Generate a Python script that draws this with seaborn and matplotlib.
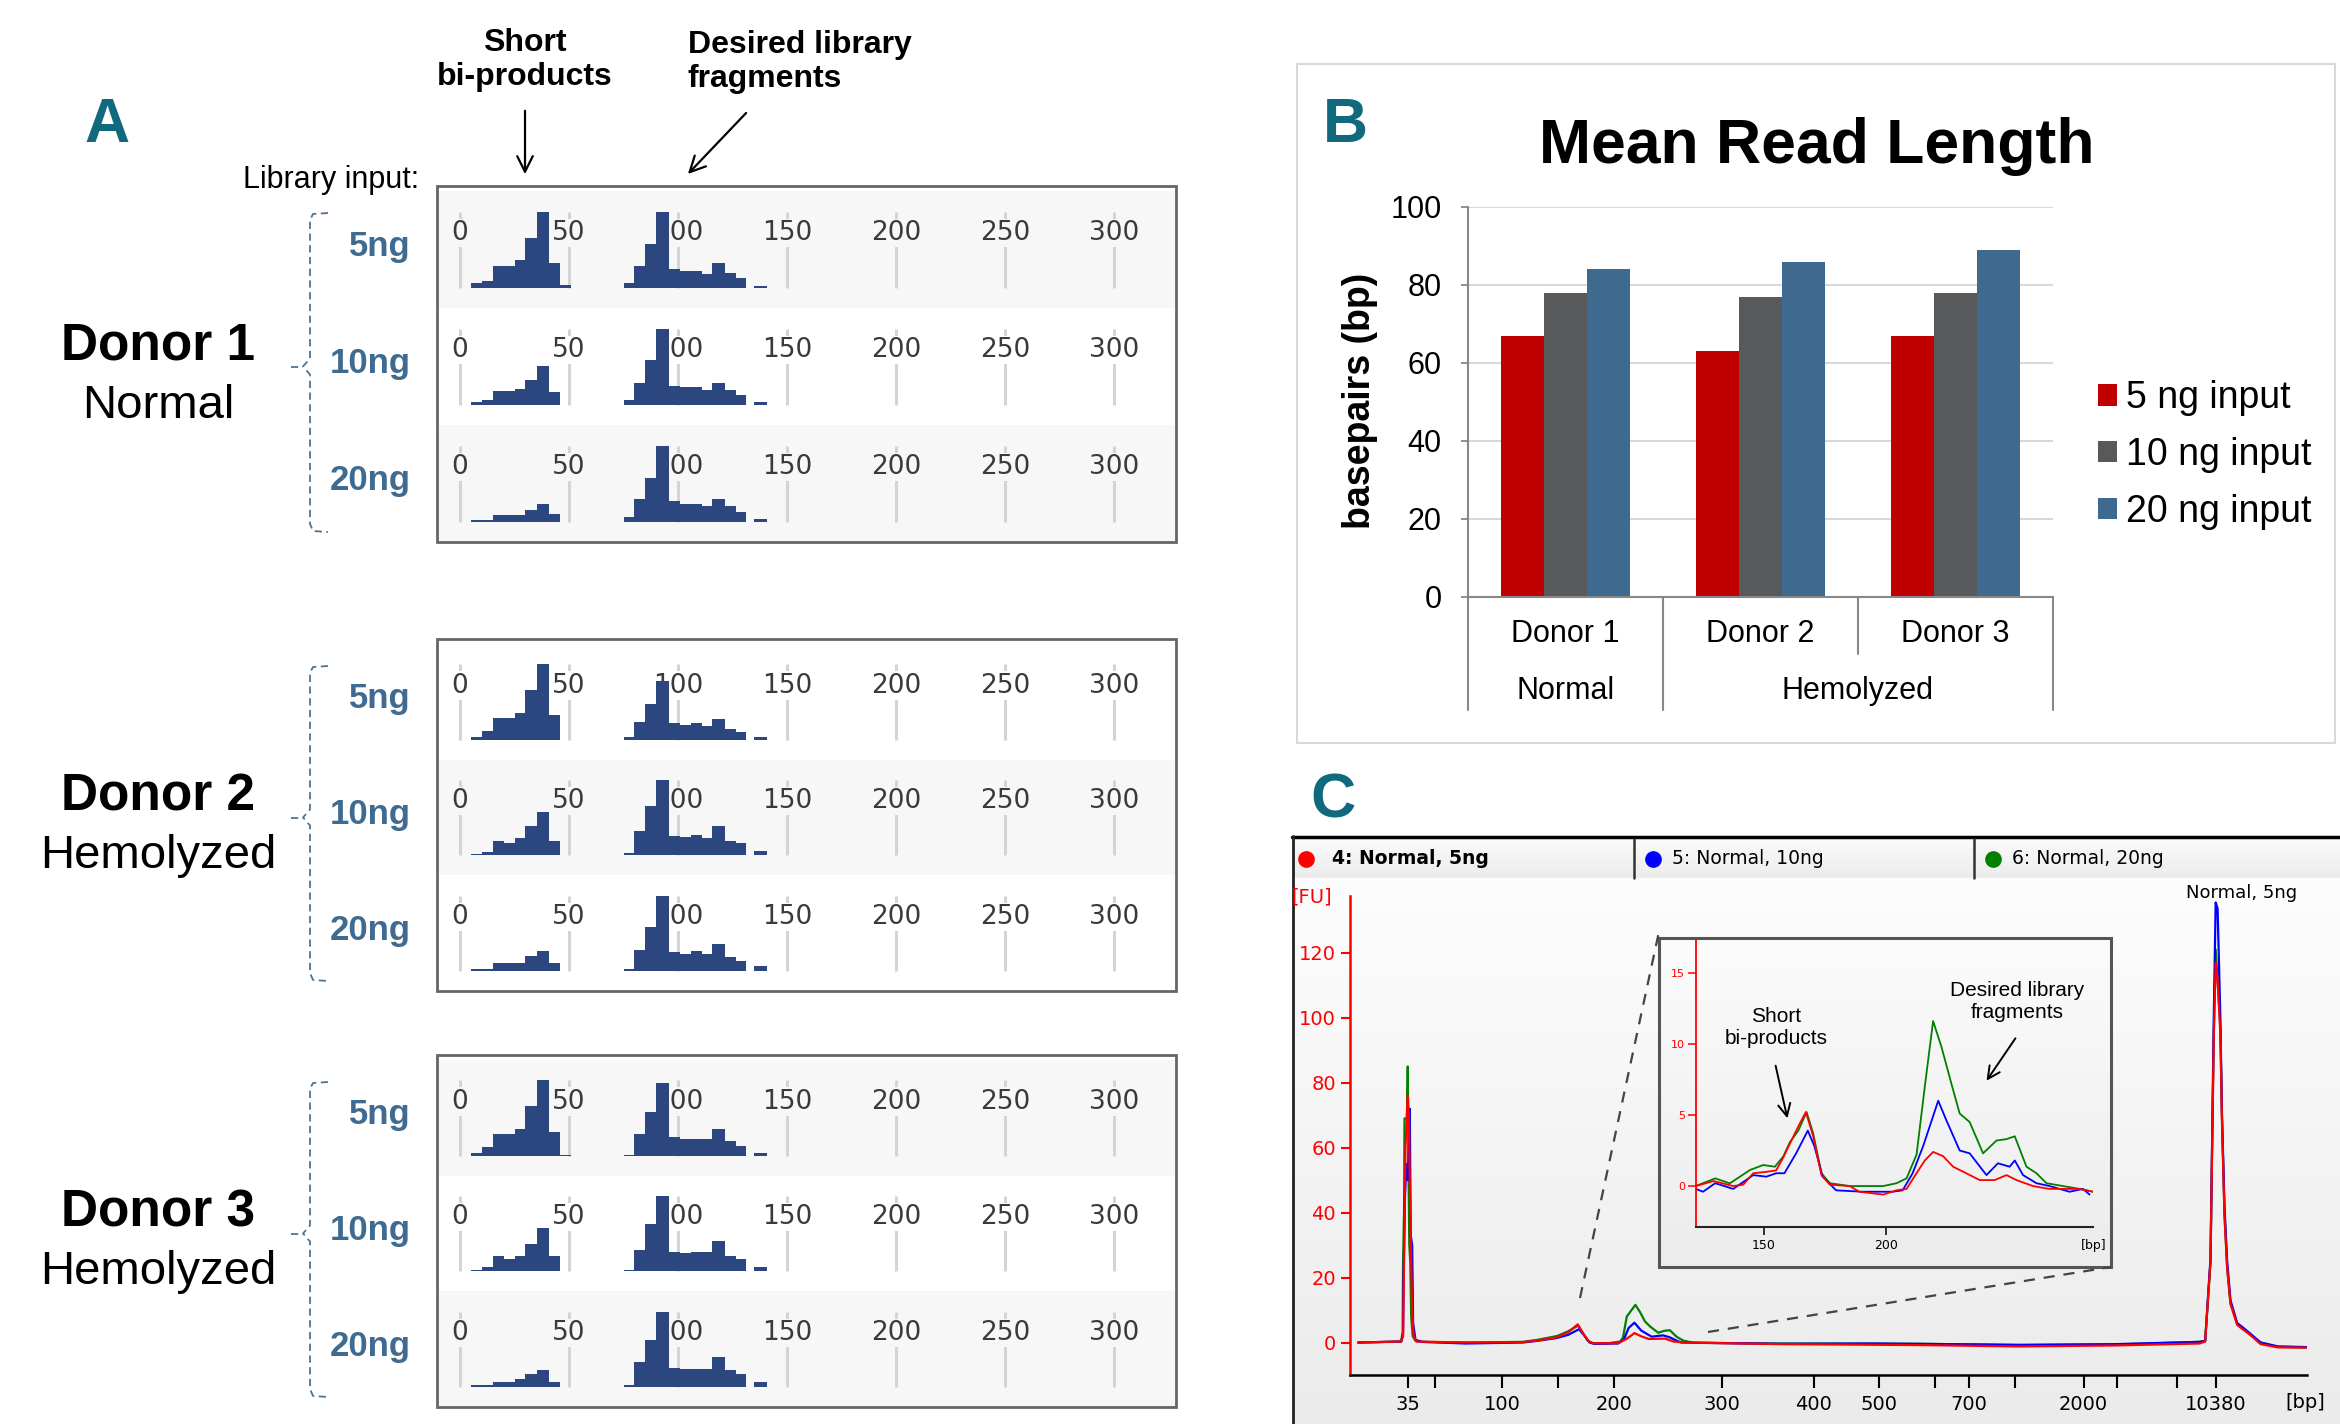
import numpy as np
import pandas as pd
import matplotlib.pyplot as plt
import seaborn as sns
from matplotlib.lines import Line2D
from matplotlib.patches import Rectangle, FancyArrowPatch
from matplotlib.colors import LinearSegmentedColormap

sns.set_style('white')
plt.rcParams['font.family'] = ['Liberation Sans', 'DejaVu Sans']
plt.rcParams['text.color'] = 'black'
plt.rcParams['axes.labelcolor'] = 'black'
plt.rcParams['xtick.color'] = 'black'
plt.rcParams['ytick.color'] = 'black'

W, H = 2340, 1424

# ---------------- data ----------------
# panel A: size histograms (percent of tallest bar in each lane)
ticks_a = [0, 50, 100, 150, 200, 250, 300]
short_edges = [5, 10, 15, 20, 25, 30, 35.5, 41, 46, 51]
lib_edges = [75, 80, 85, 90, 96, 101, 106, 111, 115.5, 121.5, 126.5, 131, 135, 141]
input_labels = ['5ng', '10ng', '20ng']

short_d1 = [[6, 9, 28, 28, 36, 66, 100, 32, 3],
            [3, 6, 18, 18, 21, 33, 51, 17, 0],
            [2, 2, 9, 9, 9, 15, 24, 10, 0]]
lib_d1 = [[6, 28, 58, 100, 25, 22, 22, 18, 32, 19, 13, 0, 2],
          [6, 29, 59, 100, 25, 23, 23, 20, 29, 20, 13, 0, 3],
          [6, 30, 58, 100, 27, 24, 24, 21, 30, 21, 13, 0, 3]]
short_d2 = [[3, 11, 29, 29, 36, 66, 100, 33, 0],
            [2, 5, 19, 16, 23, 39, 58, 19, 0],
            [2, 2, 10, 10, 10, 20, 26, 10, 0]]
lib_d2 = [[3, 23, 47, 78, 22, 19, 22, 18, 28, 14, 10, 0, 3],
          [3, 33, 66, 100, 26, 24, 27, 23, 39, 19, 16, 0, 6],
          [2, 28, 59, 100, 25, 23, 26, 22, 36, 19, 13, 0, 6]]
short_d3 = [[4, 12, 29, 29, 35, 66, 100, 32, 1],
            [2, 6, 20, 16, 20, 37, 57, 20, 0],
            [3, 3, 6, 6, 10, 17, 23, 6, 0]]
lib_d3 = [[1, 29, 58, 96, 25, 22, 22, 22, 35, 20, 13, 0, 4],
          [2, 29, 63, 100, 26, 24, 26, 26, 40, 21, 16, 0, 6],
          [3, 33, 62, 100, 25, 24, 24, 24, 40, 23, 17, 0, 6]]

# panel B: mean read length
donors = ['Donor 1', 'Donor 2', 'Donor 3']
inputs = ['5 ng input', '10 ng input', '20 ng input']
mean_5ng = [67, 63, 67]
mean_10ng = [78, 77, 78]
mean_20ng = [84, 86, 89]

# panel C: electropherogram (x = migration position 0-100, y = FU)
ladder_pos = [5.98, 8.84, 15.85, 21.74, 27.61, 38.88, 48.48, 55.26, 61.15,
              64.65, 69.54, 76.69, 80.19, 86.49, 90.55]
ladder_lbl = ['35', '', '100', '', '200', '300', '400', '500', '', '700', '',
              '2000', '', '', '10380']
green_main = [(0.8, 0), (5.3, 0.3), (5.45, 3), (5.5, 25), (5.6, 40), (5.65, 69), (5.9, 69),
              (5.99, 85), (6.05, 60), (6.15, 30), (6.25, 25), (6.35, 8), (6.5, 2), (6.8, 0.5),
              (7.5, 0.2), (12, 0), (18, 0.2), (19.5, 0.8), (21.6, 2.0), (22.8, 3.5), (23.8, 5.2),
              (24.4, 2.5), (24.8, 0.6), (25.3, -0.2), (27, -0.2), (28.2, 0.3), (28.5, 1.5),
              (28.9, 8), (29.8, 11.6), (30.3, 9.3), (30.8, 6.5), (31.35, 4.9), (32.2, 3.0),
              (32.8, 3.6), (33.4, 3.8), (34.1, 1.8), (34.8, 0.6), (35.9, -0.1), (45, -0.3),
              (60, -0.4), (70, -0.8), (80, -0.6), (88.8, 0.2), (89.4, 0.5), (89.96, 25),
              (90.1, 55), (90.3, 95), (90.5, 121), (90.99, 97), (91.16, 69), (91.42, 40),
              (91.7, 23), (92.05, 12), (92.75, 5.7), (93.5, 4), (94.17, 2.4), (95.2, 0),
              (97, -1.3), (100, -1.5)]
blue_main = [(0.8, 0), (5.3, 0.3), (5.5, 3), (5.55, 20), (5.7, 45), (5.85, 55), (6.0, 50),
             (6.1, 60), (6.2, 72), (6.3, 33), (6.45, 30), (6.55, 6), (6.8, 0.8), (7.5, 0.2),
             (12, -0.3), (18, 0), (19.5, 0.5), (21.6, 1.4), (22.8, 2.4), (23.9, 4.1), (24.5, 2),
             (25, 0), (25.5, -0.4), (28, -0.3), (28.6, 1), (29.1, 4.5), (29.7, 6.1), (30.4, 3.7),
             (31.5, 1.8), (32.7, 2.2), (33.4, 1.6), (34.1, 0.6), (34.6, 0), (45, -0.4),
             (55, -0.3), (70, -0.7), (80, -0.5), (88.8, 0.2), (89.4, 0.5), (89.96, 26),
             (90.1, 56), (90.3, 100), (90.5, 135.5), (90.7, 133.6), (90.99, 100), (91.16, 70),
             (91.42, 42), (91.7, 25), (92.05, 13), (92.75, 6), (93.4, 4.5), (94.17, 2.6),
             (95.2, 0), (97, -1.2), (100, -1.4)]
red_main = [(0.8, 0), (5.3, 0.3), (5.5, 2), (5.6, 25), (5.75, 60), (5.99, 76), (6.1, 70),
            (6.2, 50), (6.3, 32), (6.45, 10), (6.6, 2), (6.9, 0.3), (12, 0), (18, 0.1),
            (19.5, 0.6), (21.6, 1.6), (22.8, 3.2), (23.77, 5.6), (24.4, 2.5), (24.9, 0.4),
            (25.4, -0.2), (28, -0.2), (28.8, 1), (29.3, 2), (29.7, 2.9), (30.5, 1.8),
            (31.2, 1.1), (32.9, 1.2), (33.8, 0.3), (35, 0), (45, -0.5), (60, -0.8), (70, -1.2),
            (80, -0.9), (88.8, -0.3), (89.4, 0.3), (89.96, 25), (90.1, 54), (90.3, 94),
            (90.5, 117), (90.7, 112), (90.99, 95), (91.16, 68), (91.42, 39), (91.7, 23),
            (92.05, 12), (92.75, 5.4), (94.17, 2.2), (95.2, -0.5), (97, -1.5), (100, -1.6)]

# inset (x in bp)
green_inset = [(122, 0), (130, 0.54), (136, 0.19), (144.3, 1.13), (149.7, 1.48), (154.5, 1.36),
               (157.9, 2.07), (160.7, 3.1), (164.1, 3.9), (167.5, 5.2), (170.2, 3.7),
               (173.6, 0.9), (177, 0.2), (185.2, 0), (198.9, 0), (204.4, 0.2), (208.5, 0.54),
               (212.6, 2.2), (216, 7.0), (219.4, 11.6), (222.8, 9.8), (226.9, 7.2),
               (230.3, 5.1), (234.4, 4.5), (239.9, 2.3), (245.4, 3.2), (249.5, 3.3),
               (252.9, 3.5), (257.7, 1.36), (261.8, 0.9), (265.9, 0.2), (272.7, 0),
               (279.5, -0.2), (285, -0.4)]
blue_inset = [(122, -0.2), (125, -0.4), (130, 0.2), (137.4, -0.2), (145.6, 0.77), (151, 0.66),
              (155, 0.9), (158.4, 0.9), (163.2, 2.3), (168, 3.9), (170.7, 2.8), (174.1, 0.66),
              (179.6, -0.3), (190.5, -0.4), (202.8, -0.4), (206.9, -0.3), (211, 0.9),
              (215.3, 2.8), (218.8, 4.6), (221.5, 6.0), (224.9, 4.6), (230.3, 2.5),
              (234.4, 2.3), (241.3, 0.77), (246, 1.6), (250.8, 1.36), (252.9, 1.8),
              (256.3, 0.77), (261.8, 0.2), (267.2, 0), (275.4, -0.4), (280.9, -0.2),
              (283.6, -0.6)]
red_inset = [(122, 0), (129.3, 0.35), (137.4, 0), (141.5, 0.1), (145.6, 0.9), (151, 1.0),
             (155, 1.1), (157.9, 2.0), (160.7, 3.0), (164.1, 4.2), (167.2, 5.2), (170.2, 3.5),
             (173.6, 0.77), (177, 0.1), (185.2, 0), (189.1, -0.4), (198.9, -0.6),
             (204.4, -0.3), (208.5, -0.2), (212.6, 0.9), (216, 1.8), (219.4, 2.4),
             (223.5, 2.1), (227.6, 1.36), (233, 0.9), (238.5, 0.42), (244.7, 0.42),
             (249.5, 0.77), (253.6, 0.42), (260.4, 0), (267, -0.2), (279.5, -0.2), (285, -0.4)]

# ---------------- helpers ----------------
fig = plt.figure(figsize=(W / 100, H / 100), dpi=100)
fig.patch.set_facecolor('white')


def px_axes(l, t, r, b, **kw):
    return fig.add_axes([l / W, 1 - b / H, (r - l) / W, (b - t) / H], **kw)


def ftext(x, y, s, **kw):
    return fig.text(x / W, 1 - y / H, s, **kw)


def fline(xs, ys, **kw):
    fig.add_artist(Line2D([x / W for x in xs], [1 - y / H for y in ys], **kw))


def farrow(x0, y0, x1, y1, lw=1.6, ms=28):
    fig.add_artist(FancyArrowPatch((x0 / W, 1 - y0 / H), (x1 / W, 1 - y1 / H),
                                   transform=fig.transFigure, arrowstyle='->',
                                   mutation_scale=ms, lw=lw, color='black'))


def frect(l, t, r, b, **kw):
    fig.add_artist(Rectangle((l / W, 1 - b / H), (r - l) / W, (b - t) / H,
                             transform=fig.transFigure, **kw))


def gradient(l, t, r, b, c_top, c_bot):
    g = px_axes(l, t, r, b)
    g.imshow(np.linspace(0, 1, 64).reshape(-1, 1), aspect='auto',
             cmap=LinearSegmentedColormap.from_list('g', [c_top, c_bot]))
    g.set_axis_off()
    return g


teal = '#10697c'
navy = '#2c4780'
steel = '#3f6b90'

# ---------------- panel A ----------------
ftext(107, 142, 'A', fontsize=45, fontweight='bold', color=teal, ha='center', va='baseline')
ftext(525, 60, 'Short\nbi-products', fontsize=23, fontweight='bold', ha='center', va='center',
      linespacing=1.15)
ftext(688, 62, 'Desired library\nfragments', fontsize=23, fontweight='bold', ha='left',
      va='center', linespacing=1.15)
farrow(525, 108, 525, 177)
farrow(748, 111, 686, 176)
ftext(419, 180, 'Library input:', fontsize=22, ha='right', va='center')

boxes = [(186, 542), (639, 991), (1055, 1407)]
short_all = [short_d1, short_d2, short_d3]
lib_all = [lib_d1, lib_d2, lib_d3]
grey_bg = '#f7f7f7'
bg_all = [[grey_bg, 'white', grey_bg], ['white', grey_bg, 'white'], [grey_bg, 'white', grey_bg]]
donor_names = ['Donor 1', 'Donor 2', 'Donor 3']
donor_state = ['Normal', 'Hemolyzed', 'Hemolyzed']

for (top, bot), shorts, libs, bgs, dname, dstate in zip(boxes, short_all, lib_all, bg_all,
                                                       donor_names, donor_state):
    row_h = (bot - top - 5) / 3
    centers = []
    for i in range(3):
        rt = top + 5 + i * row_h
        centers.append(rt + row_h / 2)
        ax = px_axes(438, rt, 1175, rt + row_h)
        ax.set_facecolor(bgs[i])
        ax.vlines(ticks_a, 0, 100, color='#d4d4d4', lw=2.2, zorder=1)
        for t in ticks_a:
            ax.text(t, 72, str(t), ha='center', va='center', fontsize=19,
                    family='DejaVu Sans', color='#3a3a3a', zorder=2,
                    bbox=dict(boxstyle='square,pad=0.05', fc=bgs[i], ec='none'))
        sns.histplot(x=short_edges[:-1], weights=shorts[i], bins=short_edges, color=navy,
                     alpha=1, linewidth=0, ax=ax, zorder=3)
        sns.histplot(x=lib_edges[:-1], weights=libs[i], bins=lib_edges, color=navy,
                     alpha=1, linewidth=0, ax=ax, zorder=3)
        ax.set_xlim(-10.1, 328)
        ax.set_ylim(-26.6, 127.2)
        ax.set_xticks([])
        ax.set_yticks([])
        ax.set_xlabel('')
        ax.set_ylabel('')
        for s in ax.spines.values():
            s.set_visible(False)
        ftext(411, centers[i] - 3, input_labels[i], fontsize=25, fontweight='bold',
              color=steel, ha='right', va='center')
    frect(437, top, 1176, bot, fill=False, ec='#666666', lw=2)
    # dashed curly bracket
    mid = centers[1]
    bt, bb = top + 27, bot - 11
    fline([328, 313, 310, 310, 303, 310, 310, 313, 328],
          [bt, bt + 1, bt + 7, mid - 8, mid, mid + 8, bb - 7, bb, bb + 1],
          color='#4f7396', lw=1.3, ls=(0, (4, 2.5)))
    fline([291, 301], [mid, mid], color='#4f7396', lw=1.3, ls=(0, (4, 2.5)))
    ftext(158, mid - 7, dname, fontsize=37, fontweight='bold', ha='center', va='baseline')
    ftext(158, mid + 51, dstate, fontsize=34, ha='center', va='baseline')

# ---------------- panel B ----------------
frect(1297, 64, 2335, 743, fill=False, ec='#d9d9d9', lw=1.5)
ftext(1345, 142, 'B', fontsize=45, fontweight='bold', color=teal, ha='center', va='baseline')
ftext(1817, 163, 'Mean Read Length', fontsize=45, fontweight='bold', ha='center',
      va='baseline')

df = pd.DataFrame({
    'donor': donors * 3,
    'input': [inputs[0]] * 3 + [inputs[1]] * 3 + [inputs[2]] * 3,
    'bp': mean_5ng + mean_10ng + mean_20ng,
})
bar_colors = ['#c00000', '#58595b', '#3e6a8f']
axb = px_axes(1468, 207, 2053, 597)
sns.barplot(data=df, x='donor', y='bp', hue='input', hue_order=inputs, palette=bar_colors,
            width=0.665, gap=0, saturation=1, edgecolor='none', ax=axb)
axb.set_xlim(-0.5, 2.5)
axb.set_ylim(0, 100)
axb.set_yticks([0, 20, 40, 60, 80, 100])
axb.set_xticks([])
axb.set_xlabel('')
axb.set_ylabel('')
axb.set_axisbelow(True)
axb.yaxis.grid(True, color='#d9d9d9', lw=1.5)
axb.tick_params(axis='y', labelsize=22, length=5, width=1.3, color='#888888', pad=14,
                left=True, labelcolor='black')
for s in ['top', 'right']:
    axb.spines[s].set_visible(False)
for s in ['left', 'bottom']:
    axb.spines[s].set_color('#888888')
    axb.spines[s].set_linewidth(1.5)
xt = axb.get_xaxis_transform()
for i, d in enumerate(donors):
    axb.text(i, -0.095, d, transform=xt, ha='center', va='center', fontsize=22)
axb.text(0, -0.24, 'Normal', transform=xt, ha='center', va='center', fontsize=22)
axb.text(1.5, -0.24, 'Hemolyzed', transform=xt, ha='center', va='center', fontsize=22)
for xpos, ylow in [(-0.5, -0.29), (0.5, -0.29), (1.5, -0.146), (2.5, -0.29)]:
    axb.plot([xpos, xpos], [0, ylow], transform=xt, clip_on=False, color='#888888', lw=1.5)
handles, labels = axb.get_legend_handles_labels()
axb.legend(handles, labels, loc='center left', bbox_to_anchor=(2079 / W, 1 - 455 / H),
           bbox_transform=fig.transFigure, frameon=False, fontsize=27, handlelength=0.5,
           handleheight=0.5, handletextpad=0.25, labelspacing=0.55, borderpad=0)
ftext(1360, 401, 'basepairs (bp)', fontsize=27, fontweight='bold', rotation=90,
      ha='center', va='center')

# ---------------- panel C ----------------
ftext(1333, 818, 'C', fontsize=45, fontweight='bold', color=teal, ha='center', va='baseline')
gradient(1292, 838, 2340, 878, '#fbfbfb', '#ececec')
gradient(1292, 878, 2340, 1424, '#fdfdfd', '#ebebeb')
fline([1292, 2340], [837, 837], color='black', lw=2.5)
fline([1293, 1293], [836, 1424], color='#222222', lw=2)
for xs in [1634, 1974]:
    fline([xs, xs], [839, 878], color='#333333', lw=1.8)
tab_specs = [(1306, 1332, '4: Normal, 5ng', 'red', 'bold'),
             (1653, 1672, '5: Normal, 10ng', 'blue', 'normal'),
             (1993, 2012, '6: Normal, 20ng', 'green', 'normal')]
for dx, tx, s, c, wgt in tab_specs:
    fig.add_artist(Line2D([dx / W], [1 - 859 / H], marker='o', ms=11, color=c, mec=c,
                          transform=fig.transFigure))
    ftext(tx, 859, s, fontsize=13.5, fontweight=wgt, family='DejaVu Sans', ha='left',
          va='center')

axc = px_axes(1350.5, 896, 2306.5, 1375)
axc.patch.set_alpha(0)
for pts, c in [(green_main, 'green'), (blue_main, 'blue'), (red_main, 'red')]:
    arr = np.array(pts)
    sns.lineplot(x=arr[:, 0], y=arr[:, 1], color=c, lw=1.6, ax=axc, estimator=None,
                 sort=False)
axc.set_xlim(0, 100)
axc.set_ylim(-10, 137.5)
axc.set_yticks([0, 20, 40, 60, 80, 100, 120])
axc.set_xticks(ladder_pos)
axc.set_xticklabels(ladder_lbl)
for lab in axc.get_xticklabels() + axc.get_yticklabels():
    lab.set_family('DejaVu Sans')
axc.tick_params(axis='y', colors='red', labelsize=14, length=6.5, width=1.5, pad=4,
                left=True)
axc.tick_params(axis='x', colors='black', labelsize=14, length=9.5, width=1.5, pad=5,
                bottom=True)
for s in ['top', 'right']:
    axc.spines[s].set_visible(False)
axc.spines['left'].set_color('red')
axc.spines['left'].set_linewidth(1.8)
axc.spines['bottom'].set_color('black')
axc.spines['bottom'].set_linewidth(1.8)
axc.set_xlabel('')
axc.set_ylabel('')
ftext(1312, 897, '[FU]', fontsize=14, color='red', family='DejaVu Sans', ha='center',
      va='center')
ftext(2305, 1403, '[bp]', fontsize=14, family='DejaVu Sans', ha='center', va='center')
ftext(2242, 893, 'Normal, 5ng', fontsize=13, family='DejaVu Sans', ha='center', va='center')

# dashed zoom connectors
fline([1580, 1660], [1298, 927], color='#444444', lw=1.6, ls=(0, (5, 4)))
fline([1708, 2111], [1332, 1267], color='#444444', lw=1.6, ls=(0, (5, 4)))

# inset
gradient(1659, 938, 2111, 1267, '#fbfbfb', '#ececec')
frect(1659, 938, 2111, 1267, fill=False, ec='#555555', lw=2.2)
axi = px_axes(1695.7, 940, 2093, 1227.3)
axi.patch.set_alpha(0)
for pts, c in [(green_inset, 'green'), (blue_inset, 'blue'), (red_inset, 'red')]:
    arr = np.array(pts)
    sns.lineplot(x=arr[:, 0], y=arr[:, 1], color=c, lw=1.3, ax=axi, estimator=None,
                 sort=False)
axi.set_xlim(122, 285)
axi.set_ylim(-2.9, 17.3)
axi.set_yticks([0, 5, 10, 15])
axi.set_xticks([150, 200])
for lab in axi.get_xticklabels() + axi.get_yticklabels():
    lab.set_family('DejaVu Sans')
axi.tick_params(axis='y', colors='red', labelsize=8, length=5.5, width=1.1, pad=2, left=True)
axi.tick_params(axis='x', colors='black', labelsize=9, length=5.5, width=1.1, pad=3,
                bottom=True)
for s in ['top', 'right']:
    axi.spines[s].set_visible(False)
axi.spines['left'].set_color('red')
axi.spines['left'].set_linewidth(1.3)
axi.spines['bottom'].set_color('#222222')
axi.spines['bottom'].set_linewidth(1.5)
axi.set_xlabel('')
axi.set_ylabel('')
ftext(2094, 1245, '[bp]', fontsize=9, family='DejaVu Sans', ha='center', va='center')
ftext(1776, 1027, 'Short\nbi-products', fontsize=15, ha='center', va='center',
      linespacing=1.2)
ftext(2017, 1001, 'Desired library\nfragments', fontsize=15, ha='center', va='center',
      linespacing=1.2)
farrow(1775, 1063, 1788, 1121, lw=1.4, ms=22)
farrow(2017, 1036, 1985, 1083, lw=1.4, ms=22)

fig.savefig('out.png', dpi=100)
